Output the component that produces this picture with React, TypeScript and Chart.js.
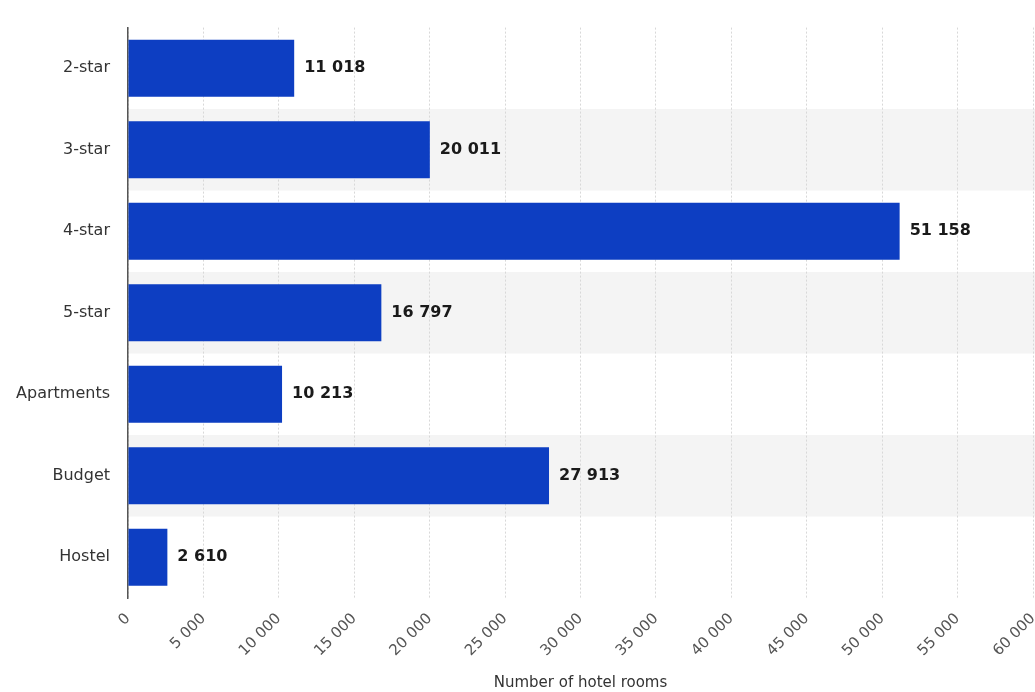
import React, { useEffect, useRef } from "react";
import { Chart, registerables } from "chart.js";

Chart.register(...registerables);

const categories = ["2-star", "3-star", "4-star", "5-star", "Apartments", "Budget", "Hostel"];
const rooms = [11018, 20011, 51158, 16797, 10213, 27913, 2610];
const xTickMin = 0;
const xTickMax = 60000;
const xTickStep = 5000;
const axisTitle = "Number of hotel rooms";

const fmt = (v: number) => String(Math.round(v)).replace(/\B(?=(\d{3})+(?!\d))/g, " ");
const FONT = "'DejaVu Sans', Verdana, sans-serif";

const bandPlugin = {
  id: "bands",
  beforeDraw(chart: any) {
    const y = chart.scales.y;
    const area = chart.chartArea;
    const ctx = chart.ctx;
    const n = categories.length;
    const step = n > 1 ? y.getPixelForValue(1) - y.getPixelForValue(0) : area.bottom - area.top;
    ctx.save();
    ctx.fillStyle = "#f4f4f4";
    for (let i = 0; i < n; i++) {
      if (i % 2 === 1) {
        const c = y.getPixelForValue(i);
        ctx.fillRect(area.left, c - step / 2, chart.width - area.left, step);
      }
    }
    ctx.restore();
  },
};

const labelPlugin = {
  id: "valueLabels",
  afterDatasetsDraw(chart: any) {
    const ctx = chart.ctx;
    const meta = chart.getDatasetMeta(0);
    ctx.save();
    ctx.font = `bold 16px ${FONT}`;
    ctx.fillStyle = "#1a1a1a";
    ctx.textAlign = "left";
    ctx.textBaseline = "middle";
    meta.data.forEach((bar: any, i: number) => {
      ctx.fillText(fmt(rooms[i]), bar.x + 10, bar.y);
    });
    ctx.restore();
  },
};

export default function App() {
  const ref = useRef<HTMLCanvasElement | null>(null);
  useEffect(() => {
    if (!ref.current) return;
    const chart = new Chart(ref.current, {
      type: "bar",
      data: {
        labels: categories,
        datasets: [
          {
            data: rooms,
            backgroundColor: "#0d3ec2",
            barPercentage: 0.7,
            categoryPercentage: 1,
          },
        ],
      },
      options: {
        indexAxis: "y",
        animation: false,
        responsive: true,
        maintainAspectRatio: false,
        layout: { padding: { top: 26, left: 8, right: 2, bottom: 0 } },
        plugins: { legend: { display: false }, tooltip: { enabled: false } },
        scales: {
          x: {
            min: xTickMin,
            max: xTickMax,
            ticks: {
              stepSize: xTickStep,
              maxRotation: 45,
              minRotation: 45,
              padding: 12,
              color: "#555",
              font: { family: FONT, size: 15 },
              callback: (v: any) => fmt(Number(v)),
            },
            grid: {
              color: "#d8d8d8",
              drawTicks: false,
            },
            border: { display: false, dash: [2, 2] },
            title: {
              display: true,
              text: axisTitle,
              color: "#333",
              font: { family: FONT, size: 15 },
              padding: { top: 4, bottom: 0 },
            },
            afterFit: (s: any) => {
              s.height = 94;
              s.paddingRight = 0;
              s.paddingLeft = 0;
            },
          },
          y: {
            ticks: {
              color: "#333",
              padding: 18,
              font: { family: FONT, size: 16 },
            },
            grid: { display: false, drawTicks: false },
            border: { display: true, color: "#555", width: 1.5 },
            afterFit: (s: any) => {
              s.width = 120;
            },
          },
        },
      },
      plugins: [bandPlugin, labelPlugin],
    });
    return () => chart.destroy();
  }, []);
  return (
    <div style={{ position: "fixed", left: 0, top: 0, width: 1035, height: 692, background: "#fff" }}>
      <canvas ref={ref} />
    </div>
  );
}
